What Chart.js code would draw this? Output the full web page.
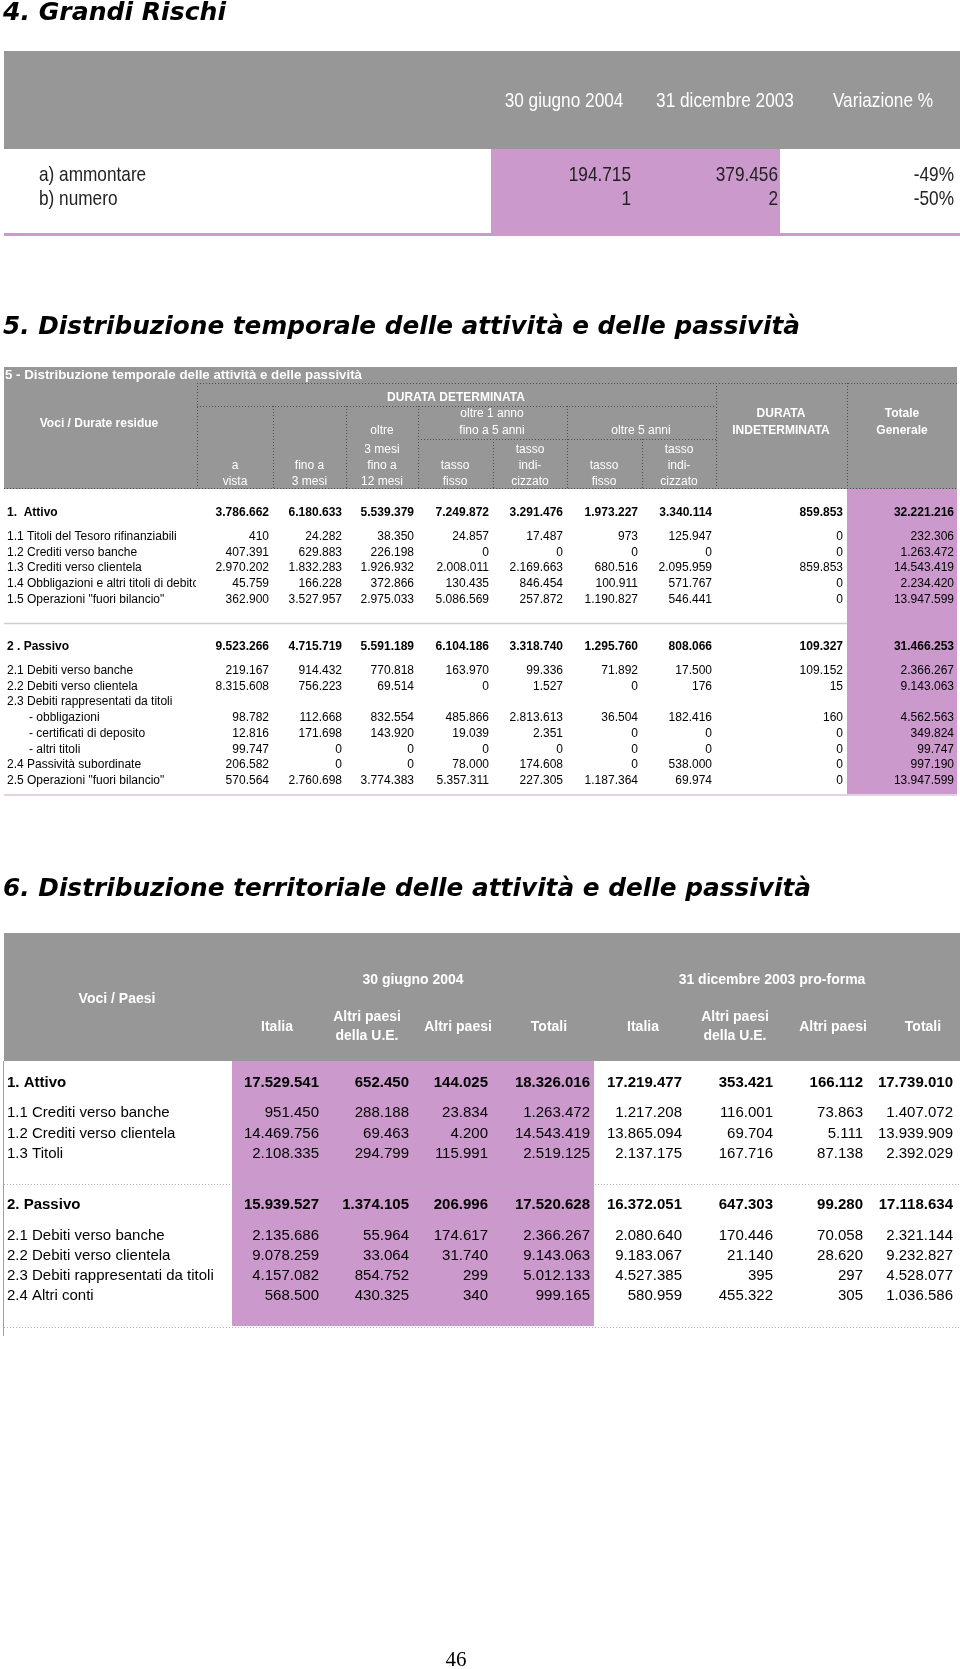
<!DOCTYPE html>
<html>
<head>
<meta charset="utf-8">
<script src="https://cdn.jsdelivr.net/npm/chart.js@4.4.0/dist/chart.umd.min.js"></script>
<style>
  html, body { margin: 0; padding: 0; background: #fff; }
  canvas { display: block; }
</style>
</head>
<body>
<canvas id="pagina" width="960" height="1669"></canvas>
<script>
// 4. Grandi Rischi
const rischiVoci = ["a) ammontare", "b) numero"];
const rischiColonne = ["30 giugno 2004", "31 dicembre 2003", "Variazione %"];
const rischiGiugno2004 = [194715, 1];
const rischiDicembre2003 = [379456, 2];
const rischiVariazione = [-49, -50];

// 5. Distribuzione temporale
const temporaleVoci = [
  "1.  Attivo",
  "1.1 Titoli del Tesoro rifinanziabili",
  "1.2 Crediti verso banche",
  "1.3 Crediti verso clientela",
  "1.4 Obbligazioni e altri titoli di debito",
  "1.5 Operazioni \"fuori bilancio\"",
  "2 . Passivo",
  "2.1 Debiti verso banche",
  "2.2 Debiti verso clientela",
  "2.3 Debiti rappresentati da titoli",
  "- obbligazioni",
  "- certificati di deposito",
  "- altri titoli",
  "2.4 Passività subordinate",
  "2.5 Operazioni \"fuori bilancio\"",
];
const temporaleAVista = [3786662, 410, 407391, 2970202, 45759, 362900, 9523266, 219167, 8315608, null, 98782, 12816, 99747, 206582, 570564];
const temporaleFino3Mesi = [6180633, 24282, 629883, 1832283, 166228, 3527957, 4715719, 914432, 756223, null, 112668, 171698, 0, 0, 2760698];
const temporaleOltre3Mesi = [5539379, 38350, 226198, 1926932, 372866, 2975033, 5591189, 770818, 69514, null, 832554, 143920, 0, 0, 3774383];
const temporaleFisso1a5 = [7249872, 24857, 0, 2008011, 130435, 5086569, 6104186, 163970, 0, null, 485866, 19039, 0, 78000, 5357311];
const temporaleIndicizzato1a5 = [3291476, 17487, 0, 2169663, 846454, 257872, 3318740, 99336, 1527, null, 2813613, 2351, 0, 174608, 227305];
const temporaleFissoOltre5 = [1973227, 973, 0, 680516, 100911, 1190827, 1295760, 71892, 0, null, 36504, 0, 0, 0, 1187364];
const temporaleIndicizzatoOltre5 = [3340114, 125947, 0, 2095959, 571767, 546441, 808066, 17500, 176, null, 182416, 0, 0, 538000, 69974];
const temporaleIndeterminata = [859853, 0, 0, 859853, 0, 0, 109327, 109152, 15, null, 160, 0, 0, 0, 0];
const temporaleTotale = [32221216, 232306, 1263472, 14543419, 2234420, 13947599, 31466253, 2366267, 9143063, null, 4562563, 349824, 99747, 997190, 13947599];

// 6. Distribuzione territoriale
const territorialeVoci = [
  "1. Attivo",
  "1.1 Crediti verso banche",
  "1.2 Crediti verso clientela",
  "1.3 Titoli",
  "2. Passivo",
  "2.1 Debiti verso banche",
  "2.2 Debiti verso clientela",
  "2.3 Debiti rappresentati da titoli",
  "2.4 Altri conti",
];
const territorialeColonne = ["Italia", "Altri paesi\ndella U.E.", "Altri paesi", "Totali"];
const giugnoItalia = [17529541, 951450, 14469756, 2108335, 15939527, 2135686, 9078259, 4157082, 568500];
const giugnoUE = [652450, 288188, 69463, 294799, 1374105, 55964, 33064, 854752, 430325];
const giugnoAltri = [144025, 23834, 4200, 115991, 206996, 174617, 31740, 299, 340];
const giugnoTotali = [18326016, 1263472, 14543419, 2519125, 17520628, 2366267, 9143063, 5012133, 999165];
const dicembreItalia = [17219477, 1217208, 13865094, 2137175, 16372051, 2080640, 9183067, 4527385, 580959];
const dicembreUE = [353421, 116001, 69704, 167716, 647303, 170446, 21140, 395, 455322];
const dicembreAltri = [166112, 73863, 5111, 87138, 99280, 70058, 28620, 297, 305];
const dicembreTotali = [17739010, 1407072, 13939909, 2392029, 17118634, 2321144, 9232827, 4528077, 1036586];

const GRIGIO = "#979797";
const ROSA = "#cc99cc";

// numeri all'italiana: 1.263.472
function formatta(n) {
  return String(n).replace(/\B(?=(\d{3})+(?!\d))/g, ".");
}

const paginaPlugin = {
  id: "pagina",
  afterDraw(chart) {
    const ctx = chart.ctx;
    const X = (v) => chart.scales.x.getPixelForValue(v);
    const Y = (v) => chart.scales.y.getPixelForValue(v);

    function rett(x0, y0, x1, y1, colore) {
      ctx.fillStyle = colore;
      ctx.fillRect(X(x0), Y(y0), X(x1) - X(x0), Y(y1) - Y(y0));
    }
    function linea(x0, y0, x1, y1, colore, spessore, tratto) {
      ctx.save();
      ctx.strokeStyle = colore;
      ctx.lineWidth = spessore || 1;
      ctx.setLineDash(tratto || []);
      ctx.beginPath();
      ctx.moveTo(X(x0), Y(y0));
      ctx.lineTo(X(x1), Y(y1));
      ctx.stroke();
      ctx.restore();
    }
    function testo(s, x, y, o) {
      ctx.save();
      ctx.font = o.font;
      ctx.fillStyle = o.colore || "#000";
      ctx.textBaseline = o.base || "middle";
      ctx.textAlign = o.align || "left";
      let sx = o.sx || 1;
      if (o.larghezza) sx = o.larghezza / ctx.measureText(s).width;
      ctx.translate(X(x), Y(y));
      ctx.scale(sx, 1);
      ctx.fillText(s, 0, 0);
      ctx.restore();
    }

    ctx.save();
    ctx.fillStyle = "#fff";
    ctx.fillRect(0, 0, chart.width, chart.height);
    ctx.restore();

    const titolo = "bold italic 25px 'DejaVu Sans'";

    // ---------- 4. Grandi Rischi ----------
    testo("4. Grandi Rischi", 3, 20, { font: titolo, base: "alphabetic", larghezza: 223, colore: "#000" });
    rett(4, 51, 960, 149, GRIGIO);
    rett(491, 149, 780, 234, ROSA);
    rett(4, 233, 960, 236, ROSA);
    const f4 = "21px 'Liberation Sans'";
    const centri4 = [564, 725, 883];
    rischiColonne.forEach((c, i) => {
      testo(c, centri4[i], 107, { font: f4, colore: "#fff", align: "center", base: "alphabetic", sx: 0.82 });
    });
    const righe4 = [181, 205];
    const destra4 = [631, 778, 954];
    rischiVoci.forEach((v, i) => {
      const y = righe4[i];
      testo(v, 39, y, { font: f4, colore: "#222", base: "alphabetic", sx: 0.82 });
      testo(formatta(rischiGiugno2004[i]), destra4[0], y, { font: f4, colore: "#222", align: "right", base: "alphabetic", sx: 0.82 });
      testo(formatta(rischiDicembre2003[i]), destra4[1], y, { font: f4, colore: "#222", align: "right", base: "alphabetic", sx: 0.82 });
      testo(rischiVariazione[i] + "%", destra4[2], y, { font: f4, colore: "#222", align: "right", base: "alphabetic", sx: 0.82 });
    });

    // ---------- 5. Distribuzione temporale ----------
    testo("5. Distribuzione temporale delle attività e delle passività", 3, 334, { font: titolo, base: "alphabetic", larghezza: 797 });
    rett(4, 367, 957, 489, GRIGIO);
    rett(847, 489, 957, 796, ROSA);
    const bianco = "#fff";
    const h5 = "12px 'Liberation Sans'";
    const h5b = "bold 12px 'Liberation Sans'";
    testo("5 - Distribuzione temporale delle attività e delle passività", 5, 375, { font: "bold 13px 'Liberation Sans'", colore: bianco, larghezza: 357 });

    const punt = "#4d4d4d";
    const dot = [1, 2];
    const div5 = [197, 273, 346, 418, 493, 567, 642, 716, 847];
    linea(197, 383.5, 957, 383.5, punt, 1, dot);
    linea(197, 406.5, 716, 406.5, punt, 1, dot);
    linea(418, 439.5, 716, 439.5, punt, 1, dot);
    linea(4, 488.5, 957, 488.5, punt, 1, dot);
    const inizio5 = [383, 406, 406, 406, 439, 406, 439, 383, 383];
    div5.forEach((x, i) => linea(x + 0.5, inizio5[i], x + 0.5, 488, punt, 1, dot));

    const c5 = [235, 309.5, 382, 455, 530, 604, 679, 781, 902];
    testo("Voci / Durate residue", 99, 424, { font: h5b, colore: bianco, align: "center" });
    testo("DURATA DETERMINATA", 456, 398, { font: h5b, colore: bianco, align: "center" });
    testo("DURATA", c5[7], 414, { font: h5b, colore: bianco, align: "center" });
    testo("INDETERMINATA", c5[7], 431, { font: h5b, colore: bianco, align: "center" });
    testo("Totale", c5[8], 414, { font: h5b, colore: bianco, align: "center" });
    testo("Generale", c5[8], 431, { font: h5b, colore: bianco, align: "center" });
    testo("oltre 1 anno", 492, 414, { font: h5, colore: bianco, align: "center" });
    testo("fino a 5 anni", 492, 431, { font: h5, colore: bianco, align: "center" });
    testo("oltre 5 anni", 641, 431, { font: h5, colore: bianco, align: "center" });
    const intestazioni5 = [
      [[466, "a"], [482, "vista"]],
      [[466, "fino a"], [482, "3 mesi"]],
      [[431, "oltre"], [450, "3 mesi"], [466, "fino a"], [482, "12 mesi"]],
      [[466, "tasso"], [482, "fisso"]],
      [[450, "tasso"], [466, "indi-"], [482, "cizzato"]],
      [[466, "tasso"], [482, "fisso"]],
      [[450, "tasso"], [466, "indi-"], [482, "cizzato"]],
    ];
    intestazioni5.forEach((righe, i) => {
      righe.forEach(([y, s]) => testo(s, c5[i], y, { font: h5, colore: bianco, align: "center" }));
    });

    linea(4, 623.5, 847, 623.5, "#cfcfcf", 1.5);
    rett(4, 794, 957, 796, "#e6cfe6");

    const righe5 = [513, 537, 553, 568, 584, 600, 647, 671, 687, 702, 718, 734, 750, 765, 781];
    const grassetto5 = [0, 6];
    const colonne5 = [temporaleAVista, temporaleFino3Mesi, temporaleOltre3Mesi, temporaleFisso1a5,
      temporaleIndicizzato1a5, temporaleFissoOltre5, temporaleIndicizzatoOltre5, temporaleIndeterminata, temporaleTotale];
    const destra5 = [269, 342, 414, 489, 563, 638, 712, 843, 954];
    temporaleVoci.forEach((v, i) => {
      const y = righe5[i];
      const f = grassetto5.includes(i) ? h5b : h5;
      ctx.save();
      ctx.beginPath();
      ctx.rect(X(0), Y(y - 10), X(196) - X(0), Y(y + 10) - Y(y - 10));
      ctx.clip();
      testo(v, v.startsWith("-") ? 29 : 7, y, { font: f });
      ctx.restore();
      colonne5.forEach((col, j) => {
        if (col[i] === null) return;
        testo(formatta(col[i]), destra5[j], y, { font: f, align: "right" });
      });
    });

    // ---------- 6. Distribuzione territoriale ----------
    testo("6. Distribuzione territoriale delle attività e delle passività", 3, 896, { font: titolo, base: "alphabetic", larghezza: 808 });
    rett(4, 933, 960, 1061, GRIGIO);
    rett(232, 1061, 594, 1326, ROSA);
    const h6 = "bold 14px 'Liberation Sans'";
    testo("Voci / Paesi", 117, 999, { font: h6, colore: bianco, align: "center" });
    testo("30 giugno 2004", 413, 980, { font: h6, colore: bianco, align: "center" });
    testo("31 dicembre 2003 pro-forma", 772, 980, { font: h6, colore: bianco, align: "center" });
    const c6 = [277, 367, 458, 549, 643, 735, 833, 923];
    c6.forEach((x, i) => {
      const parti = territorialeColonne[i % 4].split("\n");
      if (parti.length === 1) {
        testo(parti[0], x, 1027, { font: h6, colore: bianco, align: "center" });
      } else {
        testo(parti[0], x, 1017, { font: h6, colore: bianco, align: "center" });
        testo(parti[1], x, 1036, { font: h6, colore: bianco, align: "center" });
      }
    });
    linea(3.5, 1061, 3.5, 1336, "#a0a0a0", 1);
    linea(4, 1184.5, 960, 1184.5, "#b0b0b0", 1, [1, 2]);
    linea(4, 1327.5, 960, 1327.5, "#b0b0b0", 1, [1, 2]);

    const righe6 = [1083, 1113, 1134, 1154, 1205, 1236, 1256, 1276, 1296];
    const grassetto6 = [0, 4];
    const colonne6 = [giugnoItalia, giugnoUE, giugnoAltri, giugnoTotali, dicembreItalia, dicembreUE, dicembreAltri, dicembreTotali];
    const destra6 = [319, 409, 488, 590, 682, 773, 863, 953];
    territorialeVoci.forEach((v, i) => {
      const y = righe6[i];
      const f = grassetto6.includes(i) ? "bold 15px 'Liberation Sans'" : "15px 'Liberation Sans'";
      testo(v, 7, y, { font: f });
      colonne6.forEach((col, j) => testo(formatta(col[i]), destra6[j], y, { font: f, align: "right" }));
    });

    // numero di pagina
    testo("46", 456, 1666, { font: "21px 'Liberation Serif'", align: "center", base: "alphabetic" });
  },
};

new Chart(document.getElementById("pagina"), {
  type: "scatter",
  data: { datasets: [] },
  options: {
    responsive: false,
    animation: false,
    events: [],
    layout: { padding: 0 },
    plugins: {
      legend: { display: false },
      tooltip: { enabled: false },
    },
    scales: {
      x: { type: "linear", min: 0, max: 960, display: false },
      y: { type: "linear", min: 0, max: 1669, reverse: true, display: false },
    },
  },
  plugins: [paginaPlugin],
});
</script>
</body>
</html>
